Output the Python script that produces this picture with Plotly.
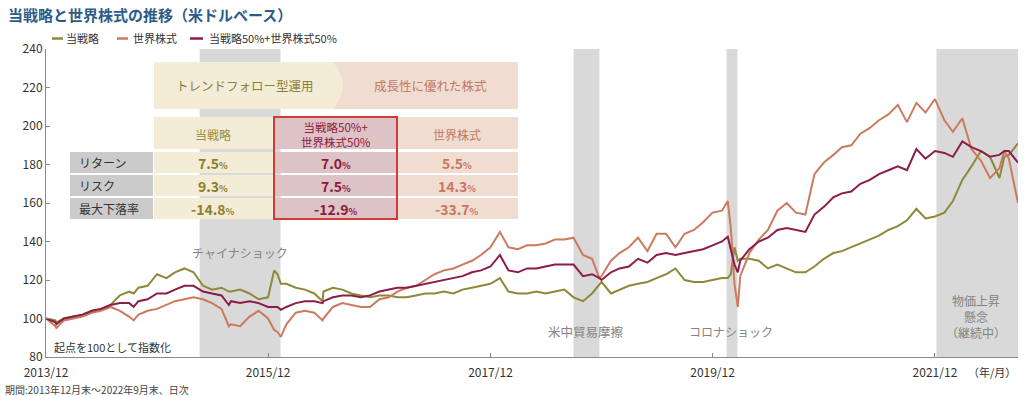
import pandas as pd
import plotly.graph_objects as go

# ---------------- data (month-end index values, start = 100) ----------------
try:
    month_ends = pd.date_range("2013-12-31", "2022-09-30", freq="ME")
except Exception:
    month_ends = pd.date_range("2013-12-31", "2022-09-30", freq="M")

strategy = [100, 99, 100, 101, 102, 104, 105, 107, 112, 114,
            116, 117, 123, 121, 124, 126, 124, 117, 115, 116,
            114, 115, 113, 110, 111, 123, 118, 116, 115, 113,
            114, 116, 115, 113, 112, 111, 112, 112, 111, 111,
            112, 113, 113, 114, 113, 115, 116, 117, 118, 121,
            114, 113, 113, 114, 113, 114, 115, 111, 109, 113,
            119, 113, 115, 117, 118, 119, 121, 123, 126, 120,
            119, 119, 120, 121, 123, 131, 131, 130, 126, 128,
            126, 124, 124, 127, 131, 134, 135, 137, 139, 141,
            143, 146, 148, 151, 157, 152, 153, 155, 161, 172,
            179, 187, 184, 173, 185, 191]

world = [100, 96, 99, 100, 101, 103, 104, 106, 104, 101,
         102, 104, 105, 107, 109, 110, 111, 110, 108, 105,
         97, 96, 101, 104, 100, 93, 97, 103, 104, 103,
         100, 106, 108, 107, 106, 106, 110, 111, 114, 116,
         117, 120, 123, 125, 126, 128, 130, 133, 137, 145,
         137, 136, 138, 138, 139, 141, 141, 142, 133, 131,
         122, 130, 134, 137, 142, 135, 144, 144, 137, 144,
         146, 150, 155, 156, 147, 122, 134, 141, 146, 156,
         160, 155, 154, 175, 181, 185, 189, 190, 196, 199,
         203, 206, 211, 202, 212, 207, 214, 203, 197, 204,
         188, 182, 173, 178, 183, 160]

blend = [100, 98, 100, 101, 102, 104, 105, 107, 108, 108,
         109, 110, 113, 113, 115, 117, 117, 114, 113, 112,
         109, 108, 109, 108, 106, 106, 106, 108, 109, 109,
         109, 111, 112, 112, 111, 112, 114, 115, 116, 116,
         117, 118, 119, 120, 121, 122, 124, 125, 127, 133,
         125, 124, 126, 126, 127, 128, 128, 128, 122, 123,
         120, 124, 126, 127, 131, 129, 133, 134, 133, 134,
         135, 136, 138, 140, 136, 130, 136, 140, 142, 146,
         147, 146, 145, 154, 158, 163, 165, 166, 170, 172,
         175, 177, 179, 177, 188, 183, 187, 186, 184, 192,
         189, 187, 184, 185, 187, 181]

# intra-month extremes
event_dates = ["2014-02-03", "2014-10-15", "2015-08-24", "2016-01-20", "2016-02-11",
               "2016-06-27", "2018-12-24", "2020-02-19", "2020-03-12", "2020-03-23",
               "2022-08-16"]
event_strategy = [98, 113, 114, 125, 118, 109, 118, 121, 137, 130, 184]
event_world = [95, 99, 96, 94, 90.5, 99, 121, 161, 118, 106, 187]
event_blend = [97, 106, 107, 106, 104.5, 108, 121, 142.5, 128, 124, 187]

series_names = ["当戦略", "世界株式", "当戦略50%+世界株式50%"]
series_colors = ["#8e8838", "#cc7a5e", "#8c1c48"]

tick_dates = ["2013-12-31", "2015-12-31", "2017-12-31", "2019-12-31", "2021-12-31"]
tick_labels = ["2013/12", "2015/12", "2017/12", "2019/12", "2021/12"]

shade_periods = [("2015-05-20", "2016-02-10"), ("2018-09-30", "2018-12-24"),
                 ("2020-02-15", "2020-03-22"), ("2022-01-05", "2022-09-30")]

table_cols = ["当戦略", "当戦略50%+<br>世界株式50%", "世界株式"]
table_rows = ["リターン", "リスク", "最大下落率"]
table_vals = [["7.5", "9.3", "-14.8"], ["7.0", "7.5", "-12.9"], ["5.5", "14.3", "-33.7"]]

# ---------------- build ----------------
df = pd.DataFrame({"date": month_ends, "s": strategy, "w": world, "b": blend})
ev = pd.DataFrame({"date": pd.to_datetime(event_dates), "s": event_strategy,
                   "w": event_world, "b": event_blend})
df = pd.concat([df, ev]).sort_values("date").reset_index(drop=True)

FONT = "Noto Sans CJK JP, Noto Sans, sans-serif"
W, H = 1024, 396
L, R, T, B = 46, 6, 49, 39
PW, PH = W - L - R, H - T - B


def px(x):
    return (x - L) / PW


def py(y):
    return (H - B - y) / PH


fig = go.Figure()
for col, name, color in zip(["s", "w", "b"], series_names, series_colors):
    fig.add_trace(go.Scatter(x=df["date"], y=df[col], mode="lines", name=name,
                             line=dict(color=color, width=2), hoverinfo="x+y+name"))

shapes = []
for a, b in shade_periods:
    shapes.append(dict(type="rect", xref="x", yref="paper", x0=a, x1=b, y0=0, y1=1,
                       fillcolor="#d9d9d9", line=dict(width=0), layer="below"))


def rect(x0, y0, x1, y1, color, line=None):
    d = dict(type="rect", xref="paper", yref="paper", x0=px(x0), x1=px(x1),
             y0=py(y1), y1=py(y0), fillcolor=color, layer="above",
             line=line if line else dict(width=0))
    shapes.append(d)


BEIGE, PINK, MID, GRAY = "#f3ecd6", "#f0dcd1", "#dec3c6", "#cbcbcb"
# header row
rect(330, 62, 518, 109, PINK)
shapes.append(dict(type="path", xref="paper", yref="paper", layer="above",
                   path=f"M {px(154)},{py(62)} L {px(333)},{py(62)} Q {px(353)},{py(85.5)} {px(333)},{py(109)} L {px(154)},{py(109)} Z",
                   fillcolor=BEIGE, line=dict(width=0)))
# column header row
rect(154, 117, 273, 149, BEIGE)
rect(274, 117, 397, 149, MID)
rect(397, 117, 518, 149, PINK)
row_y = [(152, 173), (175, 196), (198, 219)]
for (y0, y1) in row_y:
    rect(70, y0, 153, y1, GRAY)
    rect(154, y0, 273, y1, BEIGE)
    rect(274, y0, 397, y1, MID)
    rect(397, y0, 518, y1, PINK)
# red frame
rect(274, 117, 397, 219, "rgba(0,0,0,0)", line=dict(color="#d03a3a", width=2))

ann = []


def text(x, y, s, size=12, color="#333", anchor="center", bold=False):
    ann.append(dict(xref="paper", yref="paper", x=px(x), y=py(y), text=f"<b>{s}</b>" if bold else s,
                    showarrow=False, xanchor=anchor, yanchor="middle", borderpad=0,
                    font=dict(family=FONT, size=size, color=color)))


text(245, 85.5, "トレンドフォロー型運用", 12.5, "#8c8040")
text(430, 85.5, "成長性に優れた株式", 12.5, "#c07a62")
col_x = [213, 336, 457]
col_colors = ["#8c7f2a", "#8b1a3f", "#c8785c"]
head_colors = ["#9a8c3e", "#8b2040", "#c07a62"]
for cx, hdr, hc in zip(col_x, table_cols, head_colors):
    text(cx, 134, hdr, 11.5 if "<br>" in hdr else 12, hc)
for (y0, y1), lab in zip(row_y, table_rows):
    text(78, (y0 + y1) / 2, lab, 12, "#333", anchor="left")
for cx, vals, c in zip(col_x, table_vals, col_colors):
    for (y0, y1), v in zip(row_y, vals):
        ann.append(dict(xref="paper", yref="paper", x=px(cx), y=py((y0 + y1) / 2 + 0.5),
                        text=f"<b>{v}<span style='font-size:9px'>%</span></b>",
                        showarrow=False, xanchor="center", yanchor="middle",
                        font=dict(family=FONT, size=14, color=c)))

# event labels
EV = "#838383"
text(240, 252.5, "チャイナショック", 12, EV)
text(586, 331.5, "米中貿易摩擦", 12.5, EV)
text(731, 331.5, "コロナショック", 12, EV)
text(976, 300, "物価上昇", 12, EV)
text(976, 316, "懸念", 12, EV)
text(976, 332, "（継続中）", 12, EV)

text(53, 346.5, "起点を100として指数化", 11, "#333", anchor="left")
text(1017, 372, "（年/月）", 11, "#333", anchor="right")
text(4, 389, "期間:2013年12月末～2022年9月末、日次", 10, "#444", anchor="left")
text(7, 14.5, "当戦略と世界株式の推移（米ドルベース）", 15, "#2d5c88", anchor="left", bold=True)

# manual legend
leg = [(52, 63, 65), (117, 128, 132), (190, 203, 208)]
for (l0, l1, tx), name, color in zip(leg, series_names, series_colors):
    shapes.append(dict(type="line", xref="paper", yref="paper", x0=px(l0), x1=px(l1),
                       y0=py(38.5), y1=py(38.5), line=dict(color=color, width=2.5)))
    text(tx, 38.5, name, 11, "#333", anchor="left")

fig.update_layout(
    width=W, height=H, margin=dict(l=L, r=R, t=T, b=B),
    paper_bgcolor="white", plot_bgcolor="white", showlegend=False,
    font=dict(family=FONT, size=12, color="#333"),
    shapes=shapes, annotations=ann,
    xaxis=dict(range=["2013-12-31", "2022-09-30"], tickvals=tick_dates, ticktext=tick_labels,
               showgrid=False, zeroline=False, showline=True, linecolor="#8a8a8a", linewidth=1,
               ticks="inside", ticklen=4, tickcolor="#8a8a8a", tickfont=dict(size=12, color="#333"),
               ticklabelstandoff=5),
    yaxis=dict(range=[80, 240], dtick=20, showgrid=False, zeroline=False, showline=True,
               linecolor="#8a8a8a", linewidth=1, ticks="inside", ticklen=4, tickcolor="#8a8a8a",
               tickfont=dict(size=12, color="#333")),
)

fig.write_html("out.html", config={"displayModeBar": False},
               post_script="document.body.style.margin='0';document.body.style.overflow='hidden';")
